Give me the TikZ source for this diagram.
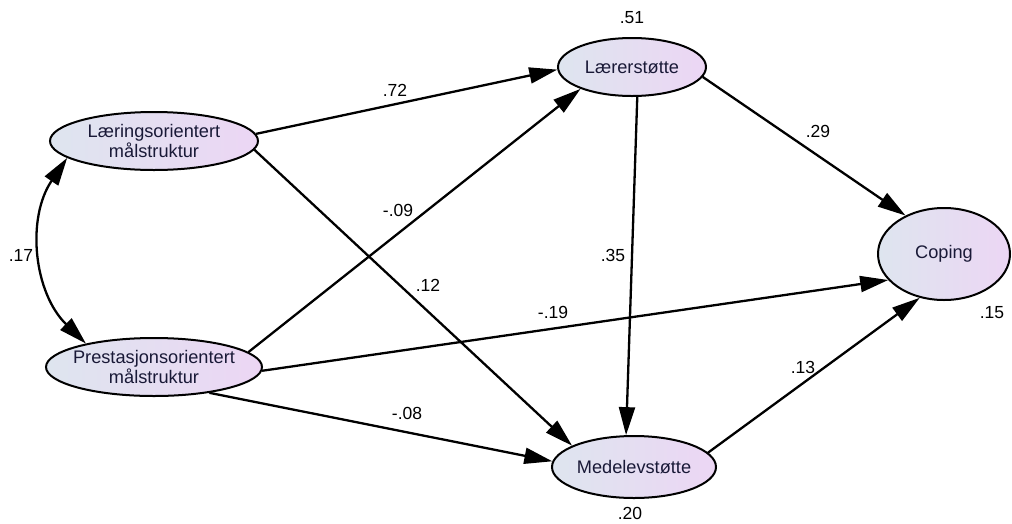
\documentclass[tikz,border=0pt]{standalone}
\usepackage{fontspec}
\setmainfont{Liberation Sans}
\usetikzlibrary{arrows.meta,shapes.geometric}
\definecolor{shadeL}{RGB}{222,229,239}
\definecolor{shadeR}{RGB}{236,214,244}
\definecolor{txt}{RGB}{25,25,55}
\begin{document}
\begin{tikzpicture}[x=1pt,y=-1pt,
  var/.style={ellipse,draw=black,line width=2pt,left color=shadeL,right color=shadeR,
    inner xsep=-20pt,inner ysep=-6pt,align=center,text=txt,font=\fontsize{18.2}{19.5}\selectfont},
  path/.style={line width=2.3pt,-{Triangle[length=28pt,width=16pt]}},
  cov/.style={line width=2.3pt,{Triangle[length=28pt,width=16pt]}-{Triangle[length=28pt,width=16pt]}},
  lab/.style={font=\fontsize{17.5}{19}\selectfont,text=black,inner sep=1pt}]
\useasboundingbox (0,0) rectangle (1012,523);
\node[var,minimum width=208pt,minimum height=58pt] (lear) at (154,141) {Læringsorientert\\målstruktur};
\node[var,minimum width=216pt,minimum height=58pt] (pres) at (154,367) {Prestasjonsorientert\\målstruktur};
\node[var,minimum width=148pt,minimum height=58pt] (lst) at (632,67) {Lærerstøtte};
\node[var,minimum width=132pt,minimum height=92pt] (cop) at (944,254) {Coping};
\node[var,minimum width=164pt,minimum height=62pt] (med) at (634,467) {Medelevstøtte};
% paths
\draw[path] (lear.4) -- (lst.182);
\draw[path] (lear.-5) -- (med.161.6);
\draw[path] (pres.9) -- (lst.203);
\draw[path] (pres.-2) -- (cop.205.8);
\draw[path] (pres.-25.5) -- (med.176);
\draw[path] (lst.-8.5) -- (cop.135);
\draw[path] (lst.280) -- (med.104);
\draw[path] (med.11.6) -- (cop.241.6);
\draw[cov] (lear.191.4) to[bend right=40] (pres.161.6);
% labels
\node[lab] (l51) at (632,18) {.51};
\node[lab] (l72) at (395,90) {.72};
\node[lab] (l29) at (818,131) {.29};
\node[lab] (l17) at (21,255) {.17};
\node[lab] (l09) at (398,210) {-.09};
\node[lab] (l35) at (613,255) {.35};
\node[lab] (l12) at (428,285) {.12};
\node[lab] (l19) at (553,312) {-.19};
\node[lab] (l15) at (992,313) {.15};
\node[lab] (l13) at (803,367) {.13};
\node[lab] (l08) at (407,413) {-.08};
\node[lab] (l20) at (630,513) {.20};
\end{tikzpicture}
\end{document}
